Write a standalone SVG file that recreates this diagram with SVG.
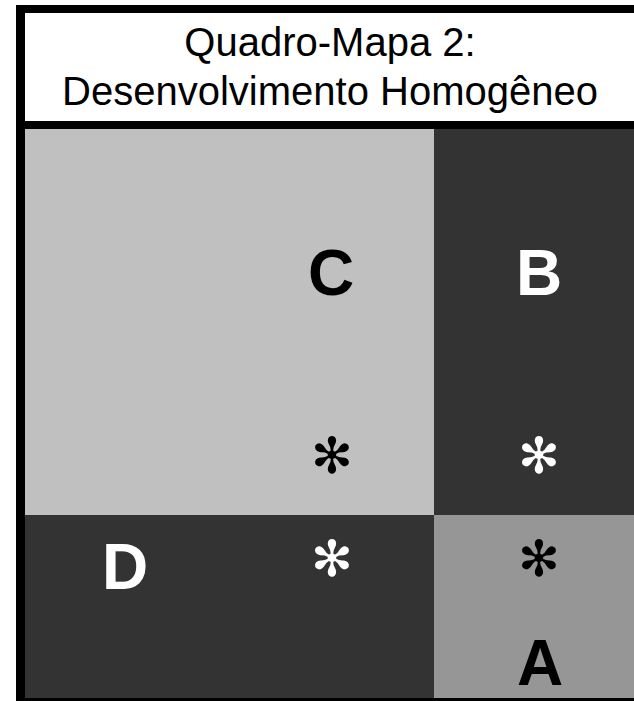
<svg xmlns="http://www.w3.org/2000/svg" width="634" height="701" viewBox="0 0 634 701">
  <style>
    .title { font-family: "Liberation Sans", Arial, sans-serif; font-size: 40px; fill: #000; text-anchor: middle; }
    .lbl { font-family: "Liberation Sans", Arial, sans-serif; font-size: 64px; font-weight: bold; text-anchor: middle; }
    .ast { font-family: "DejaVu Sans", sans-serif; font-size: 50px; text-anchor: middle; }
    .dark { fill: #000; }
    .light { fill: #fff; }
  </style>
  <rect width="634" height="701" fill="#fff"/>
  <g id="frame">
    <rect x="16" y="5" width="640" height="710" fill="#000"/>
    <rect x="25" y="13" width="620" height="108" fill="#fff"/>
  </g>
  <g id="header">
    <text class="title" x="330" y="56">Quadro-Mapa 2:</text>
    <text class="title" x="330" y="105">Desenvolvimento Homogêneo</text>
  </g>
  <g id="cell-C">
    <rect x="25" y="129" width="409" height="386" fill="#c0c0c0"/>
    <text class="lbl dark" x="331" y="295">C</text>
    <text class="ast dark" x="332" y="473">✻</text>
  </g>
  <g id="cell-B">
    <rect x="434" y="129" width="210" height="386" fill="#333333"/>
    <text class="lbl light" x="539" y="295">B</text>
    <text class="ast light" x="539" y="473">✻</text>
  </g>
  <g id="cell-D">
    <rect x="25" y="515" width="409" height="183" fill="#333333"/>
    <text class="lbl light" x="125" y="589">D</text>
    <text class="ast light" x="332" y="576">✻</text>
  </g>
  <g id="cell-A">
    <rect x="434" y="515" width="210" height="183" fill="#969696"/>
    <text class="lbl dark" x="540" y="685">A</text>
    <text class="ast dark" x="539" y="576">✻</text>
  </g>
</svg>
